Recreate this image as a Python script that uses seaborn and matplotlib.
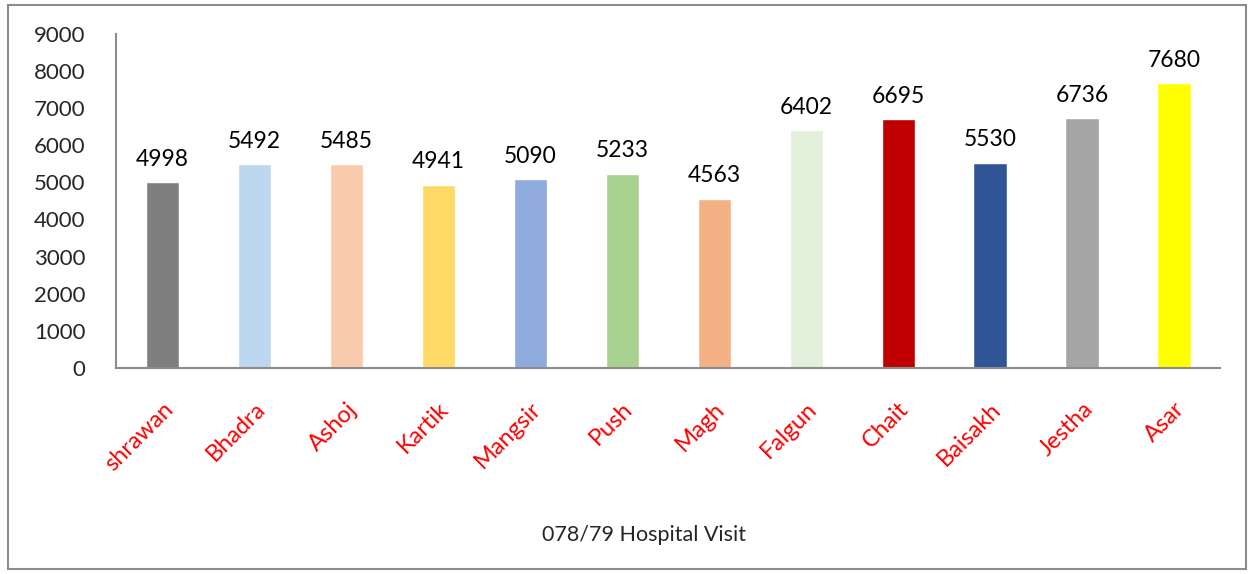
import numpy as np
import pandas as pd
import matplotlib
matplotlib.use("Agg")
import matplotlib.pyplot as plt
import seaborn as sns
from matplotlib.patches import Rectangle

sns.set_style("white")
plt.rcParams['font.family'] = ['Lato', 'DejaVu Sans']

# data
months = ["shrawan", "Bhadra", "Ashoj", "Kartik", "Mangsir", "Push",
          "Magh", "Falgun", "Chait", "Baisakh", "Jestha", "Asar"]
visits = [4998, 5492, 5485, 4941, 5090, 5233, 4563, 6402, 6695, 5530, 6736, 7680]
bar_colors = ["#7f7f7f", "#bdd7ee", "#f8cbad", "#ffd966", "#8faadc", "#a9d18e",
              "#f4b183", "#e2efda", "#c00000", "#2f5597", "#a5a5a5", "#ffff00"]

df = pd.DataFrame({"month": months, "visits": visits})

fig = plt.figure(figsize=(12.5, 5.74), dpi=100)
ax = fig.add_axes([0.093, 0.359, 0.883, 0.582])

sns.barplot(data=df, x="month", y="visits", hue="month",
            palette=bar_colors, legend=False, width=0.36, saturation=1, ax=ax)

# value labels above bars
for i, v in enumerate(visits):
    ax.text(i, v + 330, str(v), ha="center", va="bottom", fontsize=16.5, color="black")

ax.set_ylim(0, 9000)
ax.set_xlim(-0.5, len(months) - 0.5)
ax.set_yticks(np.arange(0, 9001, 1000))
ax.tick_params(axis="y", labelsize=16, length=0, pad=22)
ax.tick_params(axis="x", length=0, pad=22)
ax.set_xticks(range(len(months)))
ax.set_xticklabels(months, rotation=45, ha="right", rotation_mode="anchor",
                   color="red", fontsize=17)
ax.set_ylabel("")
ax.set_xlabel("078/79 Hospital Visit", fontsize=15.5)
# label sits a bit left of axes centre, like the original
ax.xaxis.set_label_coords(0.478, -0.47)

for s in ["top", "right"]:
    ax.spines[s].set_visible(False)
for s in ["left", "bottom"]:
    ax.spines[s].set_color("#8c8c8c")
    ax.spines[s].set_linewidth(1.5)

# outer chart border
fig.patches.append(Rectangle((0.006, 0.008), 0.991, 0.984, transform=fig.transFigure,
                             fill=False, edgecolor="#8c8c8c", linewidth=1.5))

fig.savefig("out.png", dpi=100)
